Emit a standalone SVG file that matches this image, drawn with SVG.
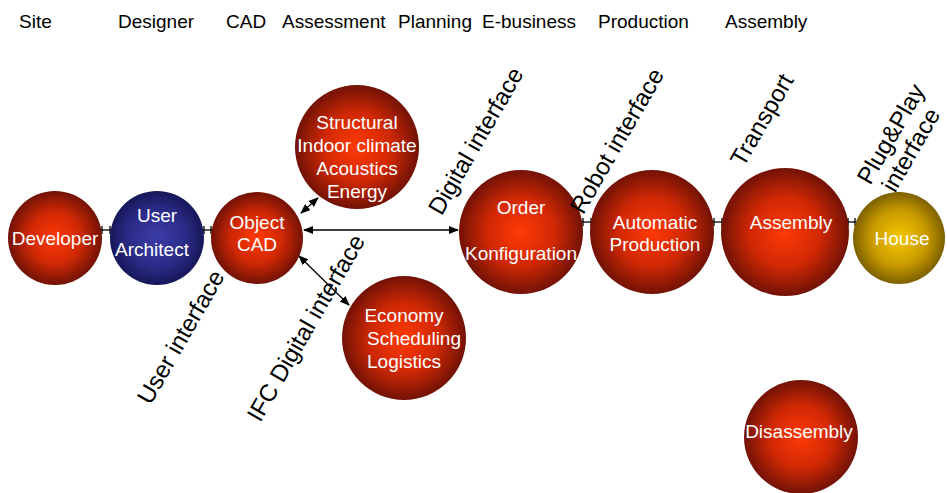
<svg xmlns="http://www.w3.org/2000/svg" width="947" height="493" viewBox="0 0 947 493">
<style>
.top{font-family:"Liberation Sans",Arial,sans-serif;font-size:19px;fill:#000}
.in{font-family:"Liberation Sans",Arial,sans-serif;font-size:19px;fill:#fff;text-anchor:middle}
.rot{font-family:"Liberation Sans",Arial,sans-serif;font-size:24px;fill:#000;text-anchor:middle}
.c{stroke:#000;stroke-width:1.3;fill:none}
.t{stroke:#000;stroke-width:1.3;fill:none}
</style>
<defs>
<radialGradient id="red" cx="50%" cy="50%" r="50%">
<stop offset="0" stop-color="#ff3a05"/>
<stop offset="0.55" stop-color="#d02805"/>
<stop offset="1" stop-color="#721205"/>
</radialGradient>
<radialGradient id="blue" cx="50%" cy="50%" r="50%">
<stop offset="0" stop-color="#3c3ca8"/>
<stop offset="0.6" stop-color="#2c2c88"/>
<stop offset="1" stop-color="#17175a"/>
</radialGradient>
<radialGradient id="gold" cx="50%" cy="50%" r="50%">
<stop offset="0" stop-color="#f5c800"/>
<stop offset="0.6" stop-color="#c89a00"/>
<stop offset="1" stop-color="#7d6000"/>
</radialGradient>
<marker id="ah" markerWidth="10" markerHeight="8" refX="9" refY="4" orient="auto-start-reverse" markerUnits="userSpaceOnUse">
<path d="M0,0 L10,4 L0,8 Z" fill="#000"/>
</marker>
</defs>

<g id="headers">
<text class="top" x="19" y="28">Site</text>
<text class="top" x="118" y="28">Designer</text>
<text class="top" x="226" y="28">CAD</text>
<text class="top" x="282" y="28">Assessment</text>
<text class="top" x="398" y="28">Planning</text>
<text class="top" x="482" y="28">E-business</text>
<text class="top" x="598" y="28">Production</text>
<text class="top" x="725" y="28">Assembly</text>
</g>

<g id="connectors">
<line class="c" x1="101" y1="230" x2="111" y2="230"/>
<line class="t" x1="102" y1="226" x2="102" y2="234"/>
<line class="t" x1="110" y1="226" x2="110" y2="234"/>
<line class="c" x1="203" y1="230" x2="212" y2="230"/>
<line class="t" x1="204" y1="226" x2="204" y2="234"/>
<line class="t" x1="211" y1="226" x2="211" y2="234"/>
<line class="c" x1="582" y1="222" x2="592" y2="222"/>
<line class="t" x1="583" y1="218" x2="583" y2="226"/>
<line class="t" x1="591" y1="218" x2="591" y2="226"/>
<line class="c" x1="713" y1="222" x2="723" y2="222"/>
<line class="t" x1="714" y1="218" x2="714" y2="226"/>
<line class="t" x1="722" y1="218" x2="722" y2="226"/>
<line class="c" x1="847" y1="222" x2="856" y2="222"/>
<line class="t" x1="848" y1="218" x2="848" y2="226"/>
<line class="t" x1="855" y1="218" x2="855" y2="226"/>
<line class="c" x1="304" y1="230" x2="458" y2="230" marker-start="url(#ah)" marker-end="url(#ah)"/>
<line class="c" x1="301" y1="213" x2="318" y2="198" marker-start="url(#ah)" marker-end="url(#ah)"/>
<line class="c" x1="299" y1="256" x2="349" y2="305" marker-start="url(#ah)" marker-end="url(#ah)"/>
</g>

<g id="developer">
<circle cx="55" cy="238" r="47" fill="url(#red)"/>
<text class="in" x="55" y="245">Developer</text>
</g>
<g id="user-architect">
<circle cx="157" cy="238" r="47" fill="url(#blue)"/>
<text class="in" x="157" y="222">User</text>
<text class="in" x="152" y="256">Architect</text>
</g>
<g id="object-cad">
<circle cx="257" cy="238" r="46" fill="url(#red)"/>
<text class="in" x="257" y="229">Object</text>
<text class="in" x="257" y="251">CAD</text>
</g>
<g id="assessment">
<circle cx="357" cy="147" r="62" fill="url(#red)"/>
<text class="in" x="357" y="129">Structural</text>
<text class="in" x="357" y="152">Indoor climate</text>
<text class="in" x="357" y="175">Acoustics</text>
<text class="in" x="357" y="198">Energy</text>
</g>
<g id="planning">
<circle cx="404" cy="338" r="62" fill="url(#red)"/>
<text class="in" x="404" y="322">Economy</text>
<text class="in" x="414" y="345">Scheduling</text>
<text class="in" x="404" y="368">Logistics</text>
</g>
<g id="order">
<circle cx="521" cy="232" r="62" fill="url(#red)"/>
<text class="in" x="521" y="214">Order</text>
<text class="in" x="521" y="260">Konfiguration</text>
</g>
<g id="production">
<circle cx="652" cy="232" r="62" fill="url(#red)"/>
<text class="in" x="655" y="229">Automatic</text>
<text class="in" x="655" y="251">Production</text>
</g>
<g id="assembly">
<circle cx="785" cy="232" r="64" fill="url(#red)"/>
<text class="in" x="791" y="229">Assembly</text>
</g>
<g id="house">
<circle cx="899" cy="238" r="46" fill="url(#gold)"/>
<text class="in" x="902" y="245">House</text>
</g>
<g id="disassembly">
<circle cx="801" cy="437" r="57" fill="url(#red)"/>
<text class="in" x="799" y="438">Disassembly</text>
</g>

<g id="labels">
<text class="rot" transform="translate(181,337) rotate(-60)" dy="8">User interface</text>
<text class="rot" transform="translate(306,328) rotate(-60)" dy="8">IFC Digital interface</text>
<text class="rot" transform="translate(476,141) rotate(-60)" dy="8">Digital interface</text>
<text class="rot" transform="translate(617,141) rotate(-60)" dy="8">Robot interface</text>
<text class="rot" transform="translate(762,120) rotate(-60)" dy="8">Transport</text>
<text class="rot" transform="translate(891,134) rotate(-60)" dy="8">Plug&amp;Play</text>
<text class="rot" transform="translate(911,150) rotate(-60)" dy="8">interface</text>
</g>
</svg>
